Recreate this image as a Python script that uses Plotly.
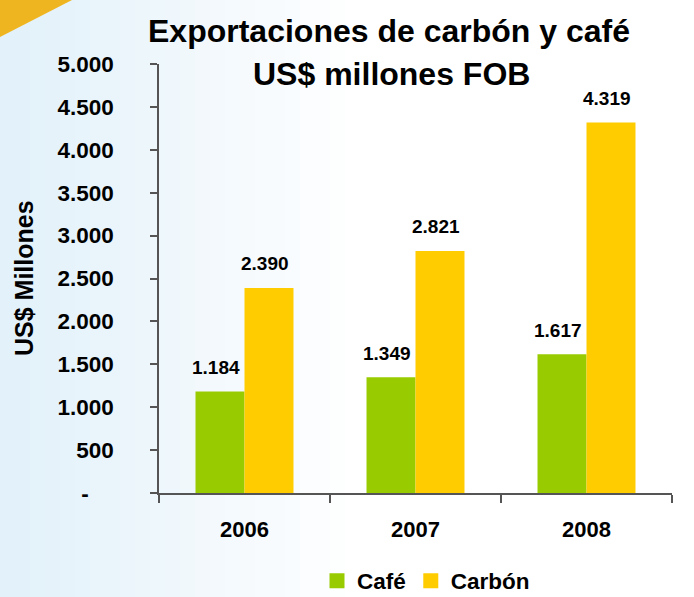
import plotly.graph_objects as go

years = ["2006", "2007", "2008"]
cafe = [1184, 1349, 1617]
carbon = [2390, 2821, 4319]
cafe_labels = ["1.184", "1.349", "1.617"]
carbon_labels = ["2.390", "2.821", "4.319"]
y_tickvals = [0, 500, 1000, 1500, 2000, 2500, 3000, 3500, 4000, 4500, 5000]
y_ticktext = ["-\u00a0\u00a0\u00a0\u00a0", "500", "1.000", "1.500", "2.000", "2.500",
              "3.000", "3.500", "4.000", "4.500", "5.000"]

W, H = 694, 597
L, R, T, B = 159, 22, 64, 104
PW, PH = W - L - R, H - T - B


def px(xp):
    return (xp - L) / PW


def py(yp):
    return (H - B - yp) / PH


FONT = "Arial, Liberation Sans, sans-serif"
GREEN = "#99CC00"
YELLOW = "#FFCC00"

fig = go.Figure()
fig.add_trace(go.Bar(x=years, y=cafe, name="Café", showlegend=False,
                     marker=dict(color=GREEN, line=dict(width=0))))
fig.add_trace(go.Bar(x=years, y=carbon, name="Carbón", showlegend=False,
                     marker=dict(color=YELLOW, line=dict(width=0))))
# legend entries with larger square swatches
fig.add_trace(go.Scatter(x=[None], y=[None], mode="markers", name="Café",
                         marker=dict(symbol="square", size=15, color=GREEN)))
fig.add_trace(go.Scatter(x=[None], y=[None], mode="markers", name="Carbón",
                         marker=dict(symbol="square", size=15, color=YELLOW)))

shapes = []
# background gradient (light blue on the left fading to white)
n = 24
x_end = 360
for i in range(n):
    x0 = x_end * i / n
    x1 = x_end * (i + 1) / n
    t = i / (n - 1)
    r = int(226 + (255 - 226) * t)
    g = int(241 + (255 - 241) * t)
    b = int(250 + (255 - 250) * t)
    shapes.append(dict(type="rect", xref="paper", yref="paper", layer="below",
                       x0=px(x0), x1=px(x1 + 1), y0=py(H), y1=py(0),
                       fillcolor=f"rgb({r},{g},{b})", line=dict(width=0)))
# yellow corner triangle
shapes.append(dict(type="path", xref="paper", yref="paper", layer="below",
                   path=f"M {px(0)},{py(0)} L {px(72)},{py(0)} L {px(0)},{py(37)} Z",
                   fillcolor="#EEB520", line=dict(width=0)))

annotations = []
off = 0.143
for i in range(len(years)):
    annotations.append(dict(x=i - off, y=cafe[i], xref="x", yref="y", text=f"<b>{cafe_labels[i]}</b>",
                            showarrow=False, yshift=24, xshift=-4, yanchor="middle",
                            font=dict(family=FONT, size=19, color="black")))
    annotations.append(dict(x=i + off, y=carbon[i], xref="x", yref="y", text=f"<b>{carbon_labels[i]}</b>",
                            showarrow=False, yshift=24, xshift=-4, yanchor="middle",
                            font=dict(family=FONT, size=19, color="black")))

annotations.append(dict(x=px(389), y=py(31), xref="paper", yref="paper",
                        text="<b>Exportaciones de carbón y café</b>", showarrow=False,
                        xanchor="center", yanchor="middle",
                        font=dict(family=FONT, size=32, color="black")))
annotations.append(dict(x=px(391), y=py(74), xref="paper", yref="paper",
                        text="<b>US$ millones FOB</b>", showarrow=False,
                        xanchor="center", yanchor="middle",
                        font=dict(family=FONT, size=32, color="black")))
annotations.append(dict(x=px(24), y=py(278), xref="paper", yref="paper",
                        text="<b>US$ Millones</b>", showarrow=False, textangle=-90,
                        xanchor="center", yanchor="middle",
                        font=dict(family=FONT, size=25, color="black")))

fig.update_layout(
    width=W, height=H,
    autosize=False,
    margin=dict(l=L, r=R, t=T, b=B, pad=0, autoexpand=False),
    paper_bgcolor="white",
    plot_bgcolor="rgba(0,0,0,0)",
    barmode="group",
    bargap=0.427,
    bargroupgap=0,
    showlegend=True,
    legend=dict(orientation="h", x=px(426), y=py(581), xanchor="center", yanchor="middle",
                font=dict(family=FONT, size=22.5, color="black", weight="bold"),
                bgcolor="rgba(0,0,0,0)", itemwidth=30, tracegroupgap=0,
                itemsizing="trace"),
    shapes=shapes,
    annotations=annotations,
    xaxis=dict(type="category", tickson="boundaries", ticks="outside", ticklen=8,
               tickcolor="#555555", tickwidth=1.5, showline=True, linecolor="#555555",
               linewidth=1.5, showgrid=False, zeroline=False,
               tickfont=dict(family=FONT, size=22, color="black", weight="bold"),
               ticklabelstandoff=16, range=[-0.5, 2.5]),
    yaxis=dict(range=[0, 5000], tickvals=y_tickvals, ticktext=y_ticktext, ticks="outside",
               ticklen=7, tickcolor="#555555", tickwidth=1.5, showline=True,
               linecolor="#555555", linewidth=1.5, showgrid=False, zeroline=False,
               tickfont=dict(family=FONT, size=22.5, color="black", weight="bold"),
               ticklabelstandoff=32),
)

fig.write_html("out.html", config={"responsive": False, "displayModeBar": False},
               post_script="document.body.style.margin='0';document.body.style.overflow='hidden';")
